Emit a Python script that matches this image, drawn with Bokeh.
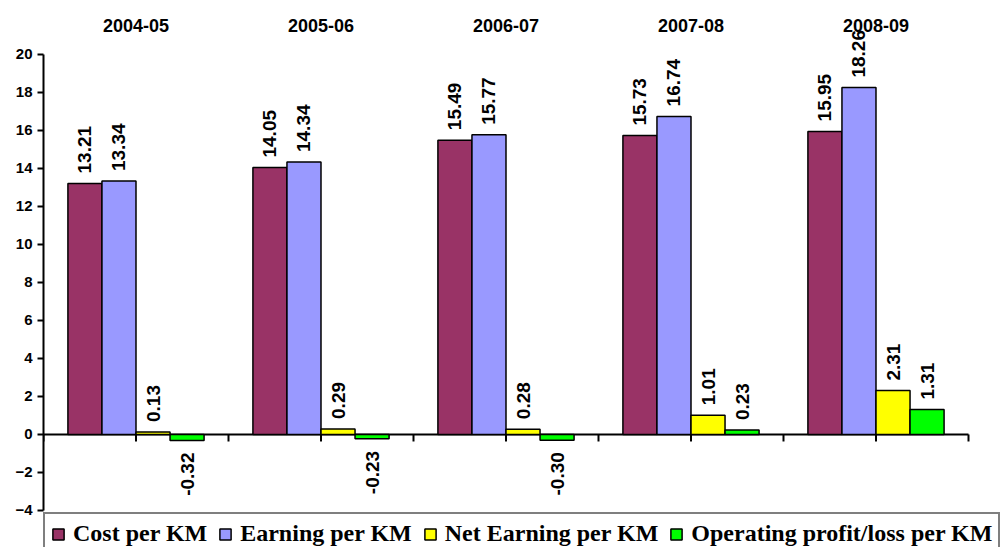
import numpy as np
from bokeh.plotting import figure
from bokeh.models import ColumnDataSource, FixedTicker, Legend, LegendItem
from bokeh.core.properties import value
from bokeh.embed import file_html
from bokeh.resources import INLINE

years = ["2004-05", "2005-06", "2006-07", "2007-08", "2008-09"]
cost = [13.21, 14.05, 15.49, 15.73, 15.95]
earning = [13.34, 14.34, 15.77, 16.74, 18.26]
net = [0.13, 0.29, 0.28, 1.01, 2.31]
oper = [-0.32, -0.23, -0.30, 0.23, 1.31]
series_names = ["Cost per KM", "Earning per KM", "Net Earning per KM", "Operating profit/loss per KM"]
colors = ["#993366", "#9999FF", "#FFFF00", "#00FF00"]
y_ticks = list(range(-4, 21, 2))

n = len(years)
centers = np.arange(n) + 0.5
bw = 0.184
y_lo, y_hi = -4, 20

# frame spans to the right and bottom edges so that the legend (drawn in the frame) is not clipped
p = figure(width=1000, height=547, output_backend="svg", toolbar_location=None,
           x_range=(0, n + 0.173), y_range=(-5.95, 22), x_axis_location=None,
           min_border_left=43, min_border_right=0, min_border_top=16, min_border_bottom=0)
p.outline_line_color = None
p.xgrid.visible = False
p.ygrid.visible = False
p.background_fill_color = "white"
p.border_fill_color = "white"

ya = p.yaxis[0]
ya.bounds = (y_lo, y_hi)
ya.ticker = FixedTicker(ticks=y_ticks)
ya.axis_line_width = 2
ya.axis_line_color = "black"
ya.major_tick_out = 6
ya.major_tick_in = 0
ya.major_tick_line_width = 2
ya.minor_tick_line_color = None
ya.major_label_standoff = 5
ya.major_label_text_font = "Liberation Sans"
ya.major_label_text_font_style = "bold"
ya.major_label_text_font_size = "15px"
ya.major_label_text_color = "black"

# category labels above the plot
p.text(x=centers, y=np.full(n, float(y_hi)), text=years, text_align="center",
       text_baseline="bottom", y_offset=-22,
       text_font=value("Liberation Sans"), text_font_style="bold",
       text_font_size="18px", text_color="black")

# zero line and its ticks at half-category steps
tx = np.arange(0, n + 0.25, 0.5)
p.segment(x0=[0], x1=[n], y0=[0], y1=[0], line_color="black", line_width=2)
p.segment(x0=tx, x1=tx, y0=np.zeros_like(tx), y1=np.full_like(tx, -0.37),
          line_color="black", line_width=2)

all_series = [cost, earning, net, oper]
items = []
for i, (vals, name, col) in enumerate(zip(all_series, series_names, colors)):
    xs = centers + (i - 1.5) * bw
    vals = np.array(vals)
    src = ColumnDataSource(dict(x=xs, top=vals, bottom=np.zeros(n)))
    r = p.vbar(x="x", top="top", bottom="bottom", width=bw, source=src,
               fill_color=col, line_color="black", line_width=1.5)
    items.append(LegendItem(label=name, renderers=[r]))
    pos = vals >= 0
    for mask, align, off in [(pos, "left", -10), (~pos, "right", 12)]:
        if mask.any():
            s2 = ColumnDataSource(dict(x=xs[mask], y=vals[mask],
                                       lab=[("%.2f" % v) for v in vals[mask]]))
            p.text(x="x", y="y", text="lab", source=s2, angle=np.pi / 2,
                   text_align=align, text_baseline="middle", y_offset=off,
                   text_font=value("Liberation Sans"), text_font_style="bold",
                   text_font_size="19px", text_color="black")

legend = Legend(items=items, orientation="horizontal", location=(0, -8),
                padding=6, margin=0, spacing=11, label_standoff=8,
                glyph_width=14, glyph_height=14,
                label_text_font="Liberation Serif", label_text_font_style="bold",
                label_text_font_size="24px", label_text_color="black",
                border_line_color="black", border_line_width=2,
                background_fill_alpha=1, background_fill_color="white")
p.add_layout(legend, "center")

open("out.html", "w").write(file_html(p, INLINE))
